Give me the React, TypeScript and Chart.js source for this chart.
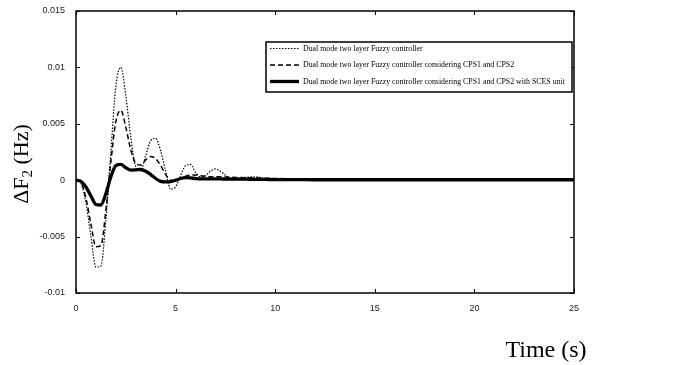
import React, { useEffect, useRef } from "react";
import { Chart, registerables } from "chart.js";

Chart.register(...registerables);

const timeS = [0, 0.25, 0.5, 0.75, 1.0, 1.25, 1.5, 1.75, 2.0, 2.25, 2.5, 2.75, 3.0, 3.25, 3.5, 3.75, 4.0, 4.25, 4.5, 4.75, 5.0, 5.25, 5.5, 5.75, 6.0, 6.25, 6.5, 6.75, 7.0, 7.25, 7.5, 7.75, 8.0, 8.5, 9.0, 9.5, 10, 11, 12, 14, 25];

// values in units of 1e-3 Hz
const fuzzy = [0, -0.3, -2.0, -5.0, -7.7, -7.6, -3.5, 2.5, 8.3, 10.0, 7.5, 3.8, 1.2, 0.9, 2.2, 3.5, 3.7, 2.6, 0.8, -0.8, -0.6, 0.4, 1.3, 1.4, 0.7, 0.3, 0.4, 0.8, 1.0, 0.8, 0.45, 0.2, 0.15, 0.25, 0.3, 0.15, 0.1, 0.1, 0.05, 0.0, null];
const fuzzyCps = [0, -0.2, -1.6, -3.9, -5.9, -5.8, -2.7, 1.6, 5.2, 6.2, 4.7, 2.7, 1.5, 1.35, 1.8, 2.1, 1.9, 1.3, 0.5, 0.0, -0.05, 0.15, 0.35, 0.45, 0.45, 0.4, 0.35, 0.3, 0.3, 0.3, 0.28, 0.26, 0.25, 0.22, 0.2, 0.18, 0.15, 0.12, 0.1, 0.05, null];
const fuzzyCpsSces = [0, -0.1, -0.6, -1.4, -2.15, -2.2, -1.2, 0.3, 1.3, 1.4, 1.1, 0.9, 0.92, 0.95, 0.8, 0.5, 0.15, -0.1, -0.15, -0.12, 0.0, 0.15, 0.22, 0.2, 0.15, 0.12, 0.12, 0.12, 0.11, 0.11, 0.1, 0.1, 0.1, 0.09, 0.08, 0.07, 0.05, 0.05, 0.04, 0.04, 0.04];

const legendLabels = [
  "Dual mode two layer Fuzzy controller",
  "Dual mode two layer Fuzzy controller considering CPS1 and CPS2",
  "Dual mode two layer Fuzzy controller considering CPS1 and CPS2 with SCES unit",
];

const xTicks = [0, 5, 10, 15, 20, 25];
const yTicks = [-0.01, -0.005, 0, 0.005, 0.01, 0.015];

const toPts = (arr: (number | null)[]) =>
  timeS.map((t, i) => ({ x: t, y: arr[i] === null ? null : (arr[i] as number) / 1000 }));

const styles = [
  { width: 1.2, dash: [1.5, 1.5] },
  { width: 1.5, dash: [5, 3] },
  { width: 3.3, dash: [] as number[] },
];

const framePlugin = {
  id: "frame",
  afterDatasetsDraw(chart: any) {
    const { ctx, chartArea: a, scales } = chart;
    const xs = scales.x;
    const ys = scales.y;
    ctx.save();
    ctx.strokeStyle = "#000";
    ctx.lineWidth = 1.5;
    ctx.setLineDash([]);
    ctx.strokeRect(a.left, a.top, a.right - a.left, a.bottom - a.top);
    ctx.lineWidth = 1;
    const tl = 4;
    xTicks.forEach((v) => {
      const px = Math.round(xs.getPixelForValue(v)) + 0.5;
      ctx.beginPath();
      ctx.moveTo(px, a.bottom);
      ctx.lineTo(px, a.bottom - tl);
      ctx.moveTo(px, a.top);
      ctx.lineTo(px, a.top + tl);
      ctx.stroke();
    });
    yTicks.forEach((v) => {
      const py = Math.round(ys.getPixelForValue(v)) + 0.5;
      ctx.beginPath();
      ctx.moveTo(a.left, py);
      ctx.lineTo(a.left + tl, py);
      ctx.moveTo(a.right, py);
      ctx.lineTo(a.right - tl, py);
      ctx.stroke();
    });

    // legend
    const lx = 266, ly = 42, lw = 306, lh = 50;
    ctx.fillStyle = "#fff";
    ctx.fillRect(lx, ly, lw, lh);
    ctx.lineWidth = 1.5;
    ctx.strokeRect(lx, ly, lw, lh);
    ctx.font = "7.85px 'Liberation Serif', 'Times New Roman', serif";
    ctx.textBaseline = "middle";
    ctx.textAlign = "left";
    ctx.fillStyle = "#000";
    legendLabels.forEach((lab, i) => {
      const yy = ly + 6.5 + i * 16.5;
      ctx.beginPath();
      ctx.lineWidth = styles[i].width;
      ctx.setLineDash(styles[i].dash);
      ctx.moveTo(lx + 4, yy);
      ctx.lineTo(lx + 33, yy);
      ctx.stroke();
      ctx.setLineDash([]);
      ctx.fillText(lab, lx + 37, yy);
    });

    // axis titles
    ctx.fillStyle = "#000";
    ctx.font = "24px 'Liberation Serif', 'Times New Roman', serif";
    ctx.textAlign = "center";
    ctx.textBaseline = "alphabetic";
    ctx.fillText("Time (s)", 546, 357);

    ctx.save();
    ctx.translate(28, 164);
    ctx.rotate(-Math.PI / 2);
    const p1 = "\u0394F";
    const p2 = "2";
    const p3 = " (Hz)";
    ctx.font = "22px 'Liberation Serif', serif";
    const w1 = ctx.measureText(p1).width;
    const w3 = ctx.measureText(p3).width;
    ctx.font = "15px 'Liberation Serif', serif";
    const w2 = ctx.measureText(p2).width;
    const total = w1 + w2 + w3;
    let cx = -total / 2;
    ctx.textAlign = "left";
    ctx.font = "22px 'Liberation Serif', serif";
    ctx.fillText(p1, cx, 0);
    cx += w1;
    ctx.font = "15px 'Liberation Serif', serif";
    ctx.fillText(p2, cx, 4);
    cx += w2;
    ctx.font = "22px 'Liberation Serif', serif";
    ctx.fillText(p3, cx, 0);
    ctx.restore();
    ctx.restore();
  },
};

export default function App() {
  const ref = useRef<HTMLCanvasElement | null>(null);
  useEffect(() => {
    if (!ref.current) return;
    const series = [fuzzy, fuzzyCps, fuzzyCpsSces];
    const chart = new Chart(ref.current, {
      type: "line",
      data: {
        datasets: series.map((s, i) => ({
          label: legendLabels[i],
          data: toPts(s) as any,
          borderColor: "#000",
          borderWidth: styles[i].width,
          borderDash: styles[i].dash,
          pointRadius: 0,
          fill: false,
          cubicInterpolationMode: "monotone" as const,
          spanGaps: false,
          order: 2 - i,
        })),
      },
      options: {
        animation: false,
        responsive: false,
        layout: { padding: { left: 0, right: 102, top: 11, bottom: 0 } },
        plugins: { legend: { display: false }, tooltip: { enabled: false } },
        scales: {
          x: {
            type: "linear",
            min: 0,
            max: 25,
            grid: { display: false },
            border: { display: false },
            ticks: {
              stepSize: 5,
              padding: 2,
              color: "#222",
              font: { family: "'Liberation Sans', Arial, sans-serif", size: 9 },
              maxRotation: 0,
            },
            afterFit: (s: any) => {
              s.height = 72;
            },
          },
          y: {
            type: "linear",
            min: -0.01,
            max: 0.015,
            grid: { display: false },
            border: { display: false },
            ticks: {
              stepSize: 0.005,
              padding: 3,
              color: "#222",
              font: { family: "'Liberation Sans', Arial, sans-serif", size: 9 },
              callback: (v: any) => String(Number(Number(v).toFixed(3))),
            },
            afterFit: (s: any) => {
              s.width = 76;
            },
          },
        },
      },
      plugins: [framePlugin],
    });
    return () => chart.destroy();
  }, []);
  return (
    <div style={{ position: "absolute", left: 0, top: 0, width: 676, height: 365, background: "#fff" }}>
      <canvas ref={ref} width={676} height={365} />
    </div>
  );
}
